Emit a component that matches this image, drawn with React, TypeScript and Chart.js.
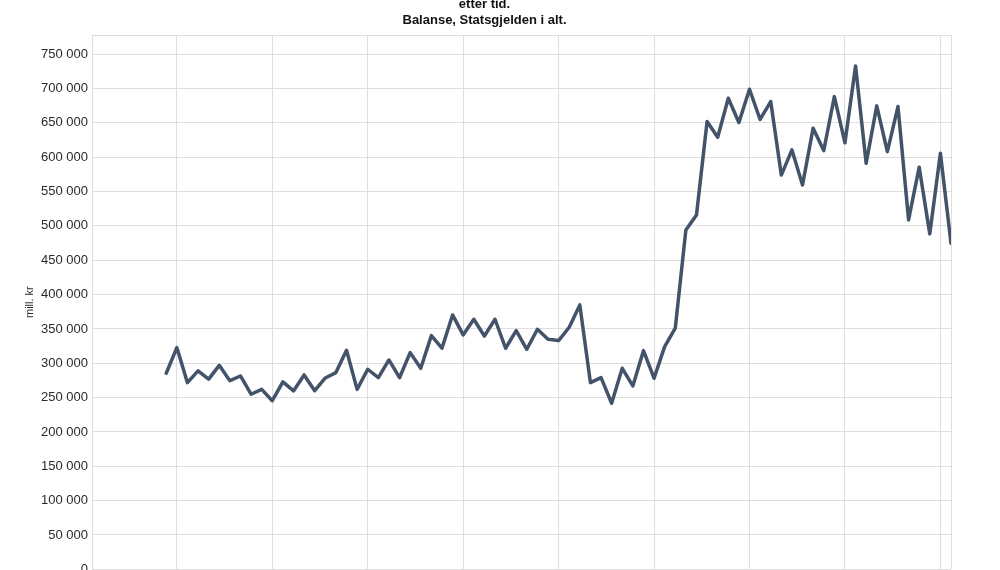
import React, { useEffect, useRef } from "react";
import { Chart, registerables } from "chart.js";

Chart.register(...registerables);

const TITLE_LINES = ["etter tid.", "Balanse, Statsgjelden i alt."];
const Y_TITLE = "mill. kr";

// Statsgjelden i alt (mill. kr), one value per period
const DEBT_VALUES = [
  285500, 322800, 271800, 289000, 277000, 297000, 274700, 281500, 254900, 262000,
  245500, 272800, 259700, 283000, 260000, 278600, 286400, 319000, 262000, 291300,
  279000, 304800, 279000, 315500, 292700, 340200, 321900, 370400, 341300, 364100,
  339800, 364100, 321900, 347500, 320400, 349600, 335000, 333000, 352500, 385000,
  271800, 279000, 241800, 292700, 267000, 318400, 278200, 324200, 351000, 494200,
  516000, 652000, 629000, 686000, 650500, 699000, 655000, 681000, 574000, 610700,
  559700, 642300, 609700, 688300, 621000, 733000, 591300, 674800, 608200, 673800,
  508700, 585500, 488400, 605900, 474800,
];

const Y_TICKS = [
  0, 50000, 100000, 150000, 200000, 250000, 300000, 350000, 400000, 450000,
  500000, 550000, 600000, 650000, 700000, 750000,
];
const Y_MAX = 778000;

// vertical grid positions (period index) and x-range
const X_GRID = [1, 10, 19, 28, 37, 46, 55, 64, 73];
const X_MIN = -7;
const X_MAX = 74;

const fmt = (v: number) => String(v).replace(/\B(?=(\d{3})+(?!\d))/g, " ");

export default function App() {
  const ref = useRef<HTMLCanvasElement | null>(null);

  useEffect(() => {
    if (!ref.current) return;
    const gridColor = "#dedede";
    const chart = new Chart(ref.current, {
      type: "line",
      data: {
        datasets: [
          {
            label: "Statsgjelden i alt",
            data: DEBT_VALUES.map((v, i) => ({ x: i, y: v })),
            borderColor: "#435369",
            borderWidth: 3.5,
            borderJoinStyle: "round",
            borderCapStyle: "round",
            pointRadius: 0,
            tension: 0,
            fill: false,
          },
        ],
      },
      options: {
        responsive: false,
        animation: false,
        layout: { padding: { left: 18, right: 19, top: 0, bottom: 38.7 } },
        plugins: {
          legend: { display: false },
          tooltip: { enabled: false },
          title: {
            display: true,
            text: TITLE_LINES,
            color: "#111",
            font: { family: "'Liberation Sans', Arial, sans-serif", size: 13, weight: "bold", lineHeight: "16px" },
            padding: { top: 8, bottom: 7 },
          },
        },
        scales: {
          x: {
            type: "linear",
            min: X_MIN,
            max: X_MAX,
            afterBuildTicks: (scale: any) => {
              scale.ticks = [X_MIN, ...X_GRID, X_MAX].map((v) => ({ value: v }));
            },
            ticks: { display: false },
            grid: { color: gridColor, lineWidth: 1, drawTicks: false },
            border: { display: false },
          },
          y: {
            type: "linear",
            min: 0,
            max: Y_MAX,
            afterBuildTicks: (scale: any) => {
              scale.ticks = [...Y_TICKS, Y_MAX].map((v) => ({ value: v }));
            },
            afterFit: (scale: any) => {
              scale.width = 74;
            },
            ticks: {
              padding: 4,
              color: "#2a2a2a",
              font: { family: "'Liberation Sans', Arial, sans-serif", size: 13 },
              callback: (v: any) => (Y_TICKS.includes(Number(v)) ? fmt(Number(v)) : ""),
            },
            grid: { color: gridColor, lineWidth: 1, drawTicks: false },
            border: { display: true, color: gridColor },
            title: {
              display: true,
              text: Y_TITLE,
              color: "#2a2a2a",
              font: { family: "'Liberation Sans', Arial, sans-serif", size: 11 },
              padding: { top: 5, bottom: 0 },
            },
          },
        },
      },
    } as any);
    return () => chart.destroy();
  }, []);

  return (
    <div style={{ position: "absolute", left: 0, top: -12, width: 970, height: 620 }}>
      <canvas ref={ref} width={970} height={620} style={{ width: 970, height: 620, display: "block" }} />
    </div>
  );
}
